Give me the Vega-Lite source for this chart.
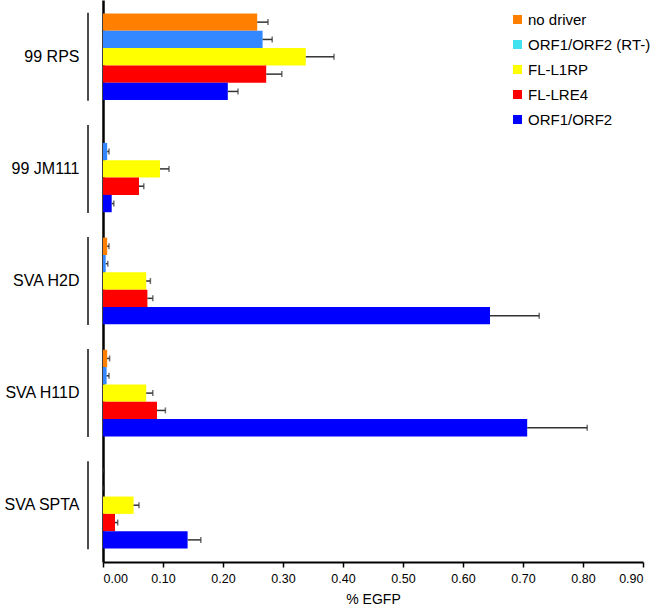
{
  "$schema": "https://vega.github.io/schema/vega-lite/v6.json",
  "width": 540,
  "height": 562,
  "autosize": {"type": "none"},
  "padding": {"left": 103, "top": 0, "right": 23, "bottom": 52},
  "background": "white",
  "config": {"font": "Liberation Sans", "view": {"stroke": null}},
  "data": {
    "values": [
      {"group": "99 RPS", "series": "no driver", "value": 0.257, "hi": 0.275},
      {"group": "99 RPS", "series": "ORF1/ORF2 (RT-)", "value": 0.266, "hi": 0.282},
      {"group": "99 RPS", "series": "FL-L1RP", "value": 0.338, "hi": 0.385},
      {"group": "99 RPS", "series": "FL-LRE4", "value": 0.272, "hi": 0.298},
      {"group": "99 RPS", "series": "ORF1/ORF2", "value": 0.208, "hi": 0.225},
      {"group": "99 JM111", "series": "no driver", "value": 0, "hi": null},
      {"group": "99 JM111", "series": "ORF1/ORF2 (RT-)", "value": 0.007, "hi": 0.010},
      {"group": "99 JM111", "series": "FL-L1RP", "value": 0.095, "hi": 0.110},
      {"group": "99 JM111", "series": "FL-LRE4", "value": 0.060, "hi": 0.068},
      {"group": "99 JM111", "series": "ORF1/ORF2", "value": 0.0145, "hi": 0.018},
      {"group": "SVA H2D", "series": "no driver", "value": 0.007, "hi": 0.010},
      {"group": "SVA H2D", "series": "ORF1/ORF2 (RT-)", "value": 0.0045, "hi": 0.008},
      {"group": "SVA H2D", "series": "FL-L1RP", "value": 0.072, "hi": 0.079},
      {"group": "SVA H2D", "series": "FL-LRE4", "value": 0.074, "hi": 0.083},
      {"group": "SVA H2D", "series": "ORF1/ORF2", "value": 0.645, "hi": 0.727},
      {"group": "SVA H11D", "series": "no driver", "value": 0.007, "hi": 0.011},
      {"group": "SVA H11D", "series": "ORF1/ORF2 (RT-)", "value": 0.006, "hi": 0.010},
      {"group": "SVA H11D", "series": "FL-L1RP", "value": 0.072, "hi": 0.083},
      {"group": "SVA H11D", "series": "FL-LRE4", "value": 0.090, "hi": 0.104},
      {"group": "SVA H11D", "series": "ORF1/ORF2", "value": 0.707, "hi": 0.807},
      {"group": "SVA SPTA", "series": "no driver", "value": 0, "hi": 0.002},
      {"group": "SVA SPTA", "series": "ORF1/ORF2 (RT-)", "value": 0, "hi": 0.002},
      {"group": "SVA SPTA", "series": "FL-L1RP", "value": 0.051, "hi": 0.060},
      {"group": "SVA SPTA", "series": "FL-LRE4", "value": 0.020, "hi": 0.0245},
      {"group": "SVA SPTA", "series": "ORF1/ORF2", "value": 0.141, "hi": 0.163}
    ]
  },
  "encoding": {
    "y": {
      "field": "group",
      "type": "nominal",
      "sort": ["99 RPS", "99 JM111", "SVA H2D", "SVA H11D", "SVA SPTA"],
      "scale": {"paddingInner": 0.227, "paddingOuter": 0.12},
      "axis": {
        "title": null,
        "ticks": false,
        "domain": true,
        "domainColor": "black",
        "domainWidth": 2.5,
        "labelFontSize": 16,
        "labelPadding": 24,
        "labelColor": "black",
        "labelFont": "Liberation Sans"
      }
    }
  },
  "layer": [
    {
      "mark": {"type": "bar", "fillOpacity": 0, "strokeWidth": 0},
      "encoding": {
        "x": {
          "field": "value",
          "type": "quantitative",
          "scale": {"domain": [0, 0.9], "nice": false},
          "axis": {
            "values": [0, 0.1, 0.2, 0.3, 0.4, 0.5, 0.6, 0.7, 0.8, 0.9],
            "format": ".2f",
            "grid": false,
            "labelFontSize": 12.5,
            "labelColor": "black",
            "labelPadding": 5,
            "domainColor": "black",
            "domainWidth": 2,
            "tickColor": "black",
            "tickWidth": 1.5,
            "tickSize": 5,
            "title": "% EGFP",
            "titleFontSize": 14,
            "titleFontWeight": "normal",
            "titleColor": "black",
            "titlePadding": 8
          }
        },
        "yOffset": {
          "field": "series",
          "type": "nominal",
          "sort": ["no driver", "ORF1/ORF2 (RT-)", "FL-L1RP", "FL-LRE4", "ORF1/ORF2"],
          "scale": {"paddingInner": 0, "paddingOuter": 0}
        },
        "fill": {
          "field": "series",
          "type": "nominal",
          "scale": {
            "domain": ["no driver", "ORF1/ORF2 (RT-)", "FL-L1RP", "FL-LRE4", "ORF1/ORF2"],
            "range": ["#FF8000", "#40E2F0", "#FFFF00", "#FF0000", "#0000FF"]
          },
          "legend": {
            "title": null,
            "orient": "none",
            "legendX": 407,
            "legendY": 12,
            "symbolType": "square",
            "symbolSize": 81,
            "symbolStrokeWidth": 0,
            "symbolOpacity": 1,
            "symbolFillOpacity": 1,
            "labelFontSize": 15,
            "labelColor": "black",
            "labelOffset": 3,
            "rowPadding": 9
          }
        }
      }
    },
    {
      "mark": {"type": "bar"},
      "encoding": {
        "x": {"field": "value", "type": "quantitative"},
        "yOffset": {
          "field": "series",
          "type": "nominal",
          "sort": ["no driver", "ORF1/ORF2 (RT-)", "FL-L1RP", "FL-LRE4", "ORF1/ORF2"]
        },
        "color": {
          "field": "series",
          "type": "nominal",
          "scale": {
            "domain": ["no driver", "ORF1/ORF2 (RT-)", "FL-L1RP", "FL-LRE4", "ORF1/ORF2"],
            "range": ["#FF8000", "#3388FF", "#FFFF00", "#FF0000", "#0000FF"]
          },
          "legend": null
        }
      }
    },
    {
      "transform": [{"filter": "isValid(datum.hi)"}],
      "mark": {"type": "rule", "color": "#333333", "strokeWidth": 1.5},
      "encoding": {
        "x": {"field": "value", "type": "quantitative"},
        "x2": {"field": "hi"},
        "yOffset": {
          "field": "series",
          "type": "nominal",
          "sort": ["no driver", "ORF1/ORF2 (RT-)", "FL-L1RP", "FL-LRE4", "ORF1/ORF2"]
        }
      }
    },
    {
      "transform": [{"filter": "isValid(datum.hi)"}],
      "mark": {"type": "tick", "color": "#333333", "thickness": 1.5, "size": 6, "orient": "vertical"},
      "encoding": {
        "x": {"field": "hi", "type": "quantitative"},
        "yOffset": {
          "field": "series",
          "type": "nominal",
          "sort": ["no driver", "ORF1/ORF2 (RT-)", "FL-L1RP", "FL-LRE4", "ORF1/ORF2"]
        }
      }
    },
    {
      "transform": [{"aggregate": [{"op": "count", "as": "n"}], "groupby": ["group"]}],
      "mark": {"type": "tick", "color": "black", "thickness": 2, "size": 88, "orient": "vertical", "xOffset": -15},
      "encoding": {
        "x": {"datum": 0}
      }
    }
  ]
}
